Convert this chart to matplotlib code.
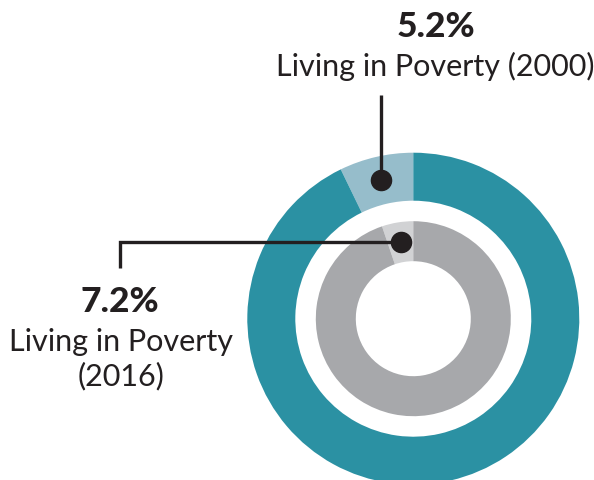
import matplotlib
matplotlib.use("Agg")
import matplotlib.pyplot as plt
import numpy as np

# Data
outer_values = [7.2, 92.8]   # outer ring: poverty share, rest
inner_values = [5.2, 94.8]   # inner ring: poverty share, rest
label_top_value = "5.2%"
label_top_text = "Living in Poverty (2000)"
label_left_value = "7.2%"
label_left_text = ["Living in Poverty", "(2016)"]

outer_colors = ["#96BDCB", "#2B91A3"]
inner_colors = ["#D1D2D4", "#A7A8AB"]
dark = "#231F20"

W, H = 594, 480
fig = plt.figure(figsize=(W / 100, H / 100), dpi=100)
ax = fig.add_axes([0, 0, 1, 1])
ax.set_xlim(0, W)
ax.set_ylim(0, H)
ax.axis("off")

cx, cy = 413.3, H - 318.7
R_out, w_out = 166, 48
R_in, w_in = 97.5, 40

ow, _ = ax.pie(outer_values, colors=outer_colors, startangle=90, counterclock=True,
               radius=R_out, center=(cx, cy), wedgeprops=dict(width=w_out, linewidth=0))
iw, _ = ax.pie(inner_values, colors=inner_colors, startangle=90, counterclock=True,
               radius=R_in, center=(cx, cy), wedgeprops=dict(width=w_in, linewidth=0))
ax.set_xlim(0, W)
ax.set_ylim(0, H)

def centroid(w, R, width):
    a = np.deg2rad((w.theta1 + w.theta2) / 2)
    r = R - width / 2
    return cx + r * np.cos(a), cy + r * np.sin(a)

ox, oy = centroid(ow[0], R_out, w_out)
ix, iy = centroid(iw[0], R_in, w_in)

lw = 2.4
# top callout
ax.plot([ox, ox], [oy, H - 95], color=dark, lw=lw, solid_capstyle="butt", zorder=3)
ax.plot([ox], [oy], "o", color=dark, ms=14.5, zorder=4)
# left callout
ax.plot([ix, 120, 120], [iy, iy, H - 268], color=dark, lw=lw,
        solid_capstyle="butt", solid_joinstyle="miter", zorder=3)
ax.plot([ix], [iy], "o", color=dark, ms=14.5, zorder=4)

fam = ["Lato", "DejaVu Sans"]
ax.text(436, H - 37, label_top_value, ha="center", va="baseline", fontsize=25.5,
        fontweight="black", color=dark, family=fam)
ax.text(435, H - 76, label_top_text, ha="center", va="baseline", fontsize=22,
        color=dark, family=fam)
ax.text(120, H - 312.5, label_left_value, ha="center", va="baseline", fontsize=25.5,
        fontweight="black", color=dark, family=fam)
ax.text(121, H - 351, label_left_text[0], ha="center", va="baseline", fontsize=22,
        color=dark, family=fam)
ax.text(121, H - 385.5, label_left_text[1], ha="center", va="baseline", fontsize=22,
        color=dark, family=fam)

fig.savefig("out.png", dpi=100)
